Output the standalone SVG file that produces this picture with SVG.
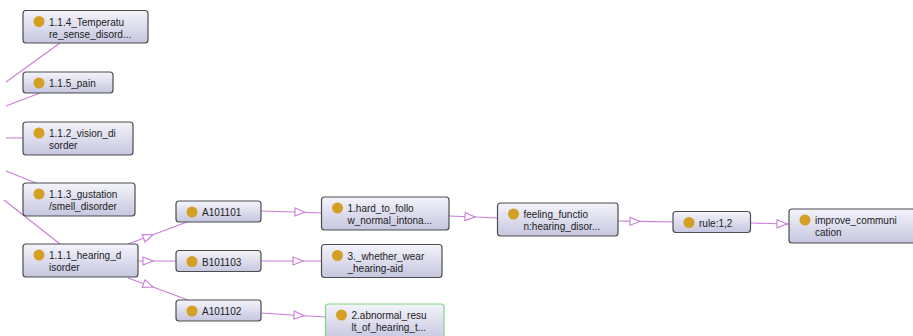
<svg xmlns="http://www.w3.org/2000/svg" width="913" height="336" viewBox="0 0 913 336">
<style>
.n rect{fill:url(#g);stroke:#4d4d4d;stroke-width:1.2}
.n.green rect{stroke:#7fd67f}
.n circle{fill:#d4a024}
.n text{font-family:"Liberation Sans",Arial,sans-serif;font-size:10px;fill:#222}
.e{fill:none;stroke:#c77ed8;stroke-width:1.1}
.a{fill:none;stroke:#c77ed8;stroke-width:1.1;marker-mid:url(#arr)}
</style>
<defs>
<linearGradient id="g" x1="0" y1="0" x2="0" y2="1">
<stop offset="0" stop-color="#f4f4fb"/>
<stop offset="1" stop-color="#c6c6e0"/>
</linearGradient>
<marker id="arr" markerUnits="userSpaceOnUse" markerWidth="12" markerHeight="10" refX="10" refY="4" orient="auto" viewBox="-1 -1 12 10">
<path d="M0,0 L10,4 L0,8 Z" fill="#fff" stroke="#c77ed8" stroke-width="1.1"/>
</marker>
</defs>
<rect width="913" height="336" fill="#fff"/>
<g id="connectors">
<line class="e" x1="6" y1="82" x2="60" y2="43"/>
<line class="e" x1="6" y1="106" x2="40" y2="93"/>
<line class="e" x1="6" y1="138" x2="23" y2="138"/>
<line class="e" x1="6" y1="171" x2="36" y2="183"/>
<line class="e" x1="4" y1="200" x2="60" y2="244"/>
<polyline class="a" points="128,244 153,234.7 187,222"/>
<polyline class="a" points="138,261 153,261 176,261"/>
<polyline class="a" points="128,278 153,287 188,300"/>
<polyline class="a" points="261,211 305,212.3 322,213"/>
<polyline class="a" points="261,261 303,261 322,261"/>
<polyline class="a" points="261,313 304,315.7 326,317"/>
<polyline class="a" points="449,216 475,217 498,218"/>
<polyline class="a" points="618,221 640,221.4 673,222"/>
<polyline class="a" points="751,223 787,224 789,224"/>
</g>
<g id="n114" class="n"><rect x="23" y="10.5" width="125" height="32.5" rx="3"/><circle cx="39" cy="21.5" r="5.5"/><text x="49" y="25.5">1.1.4_Temperatu</text><text x="49" y="37.5">re_sense_disord...</text></g>
<g id="n115" class="n"><rect x="23" y="72" width="90" height="21" rx="3"/><circle cx="39" cy="83" r="5.5"/><text x="49" y="87">1.1.5_pain</text></g>
<g id="n112" class="n"><rect x="23" y="122" width="110" height="33" rx="3"/><circle cx="39" cy="133" r="5.5"/><text x="49" y="137">1.1.2_vision_di</text><text x="49" y="149">sorder</text></g>
<g id="n113" class="n"><rect x="23" y="183" width="112" height="33" rx="3"/><circle cx="39" cy="194" r="5.5"/><text x="49" y="198">1.1.3_gustation</text><text x="49" y="210">/smell_disorder</text></g>
<g id="n111" class="n"><rect x="23" y="244" width="115" height="33" rx="3"/><circle cx="39" cy="255" r="5.5"/><text x="49" y="259">1.1.1_hearing_d</text><text x="49" y="271">isorder</text></g>
<g id="A101101" class="n"><rect x="176" y="201" width="85" height="21" rx="3"/><circle cx="192" cy="212" r="5.5"/><text x="202" y="216">A101101</text></g>
<g id="B101103" class="n"><rect x="176" y="250.5" width="85" height="21" rx="3"/><circle cx="192" cy="261.5" r="5.5"/><text x="202" y="265.5">B101103</text></g>
<g id="A101102" class="n"><rect x="176" y="300" width="85" height="21" rx="3"/><circle cx="192" cy="311" r="5.5"/><text x="202" y="315">A101102</text></g>
<g id="hard" class="n"><rect x="321.5" y="197" width="127.5" height="33" rx="3"/><circle cx="337.5" cy="208" r="5.5"/><text x="347.5" y="212">1.hard_to_follo</text><text x="347.5" y="224">w_normal_intona...</text></g>
<g id="whether" class="n"><rect x="321.5" y="244.5" width="120.5" height="33" rx="3"/><circle cx="337.5" cy="255.5" r="5.5"/><text x="347.5" y="259.5">3._whether_wear</text><text x="347.5" y="271.5">_hearing-aid</text></g>
<g id="abnormal" class="n green"><rect x="325.5" y="304" width="118.5" height="36" rx="3"/><circle cx="341.5" cy="315" r="5.5"/><text x="351.5" y="319">2.abnormal_resu</text><text x="351.5" y="331">lt_of_hearing_t...</text></g>
<g id="feeling" class="n"><rect x="497.5" y="203" width="120.5" height="33" rx="3"/><circle cx="513.5" cy="214" r="5.5"/><text x="523.5" y="218">feeling_functio</text><text x="523.5" y="230">n:hearing_disor...</text></g>
<g id="rule" class="n"><rect x="673" y="211.5" width="77.5" height="21" rx="3"/><circle cx="689" cy="222.5" r="5.5"/><text x="699" y="226.5">rule:1,2</text></g>
<g id="improve" class="n"><rect x="789" y="209" width="126" height="34" rx="3"/><circle cx="805" cy="220" r="5.5"/><text x="815" y="224">improve_communi</text><text x="815" y="236">cation</text></g>
</svg>
